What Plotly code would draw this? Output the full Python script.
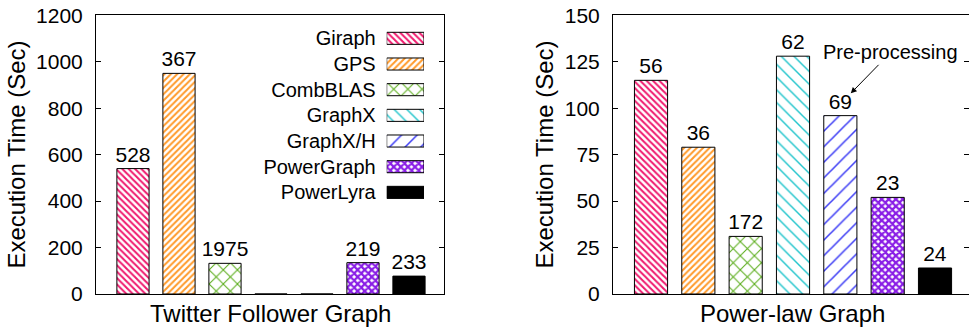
import plotly.graph_objects as go

# ---------------- data ----------------
series = ["Giraph", "GPS", "CombBLAS", "GraphX", "GraphX/H", "PowerGraph", "PowerLyra"]
twitter_time = [540, 950, 132, 0, 0, 135, 77]
twitter_labels = ["528", "367", "1975", "", "", "219", "233"]
powerlaw_time = [115, 79, 31, 128, 96, 52, 14]
powerlaw_labels = ["56", "36", "172", "62", "69", "23", "24"]

# ---------------- styles ----------------
colors = ["#f01a6e", "#ff9a2a", "#5aad1a", "#22c5cc", "#3c3cf5", "#8a1ee6", "#000000"]
pat_shapes = ["\\", "/", "x", "\\", "/", "x", ""]
pat_sizes = [4.5, 4.5, 10, 9, 11, 5, 8]
pat_solid = [0.45, 0.45, 0.2, 0.16, 0.14, 0.7, 0.3]

W, H = 969, 329
FONT = "Liberation Sans, Arial, Helvetica, sans-serif"


def fx(p):
    return p / W


def fy(p):
    return 1 - p / H


def marker(i):
    solid = pat_shapes[i] == ""
    m = dict(
        color=colors[i] if solid else "white",
        line=dict(color="black", width=1),
    )
    if not solid:
        m["pattern"] = dict(
            shape=pat_shapes[i], fgcolor=colors[i], bgcolor="white",
            size=pat_sizes[i], solidity=pat_solid[i], fillmode="replace",
        )
    return m


fig = go.Figure()

for i, name in enumerate(series):
    # left subplot
    fig.add_trace(go.Bar(
        x=[name], y=[twitter_time[i]], text=[twitter_labels[i]],
        textposition="outside", cliponaxis=False, constraintext="none",
        textfont=dict(size=21, color="black", family=FONT),
        marker=marker(i), width=0.7, xaxis="x", yaxis="y",
        showlegend=False, hoverinfo="skip",
    ))
    # right subplot
    fig.add_trace(go.Bar(
        x=[name], y=[powerlaw_time[i]], text=[powerlaw_labels[i]],
        textposition="outside", cliponaxis=False, constraintext="none",
        textfont=dict(size=21, color="black", family=FONT),
        marker=marker(i), width=0.7, xaxis="x2", yaxis="y2",
        showlegend=False, hoverinfo="skip",
    ))
    # legend swatches (helper axis)
    fig.add_trace(go.Bar(
        y=[name], x=[1], orientation="h",
        marker=marker(i), width=0.47, xaxis="x3", yaxis="y3",
        showlegend=False, hoverinfo="skip",
    ))

ydom = [fy(294), fy(15.3)]

common_x = dict(type="category", categoryorder="array", categoryarray=series,
                showticklabels=False, ticks="", showline=True, linecolor="black",
                linewidth=1, mirror=True, showgrid=False, zeroline=False,
                fixedrange=True)
common_y = dict(showline=True, linecolor="black", linewidth=1, ticks="inside",
                ticklen=5, tickcolor="black", showgrid=False, zeroline=False,
                tickfont=dict(size=21, color="black", family=FONT),
                ticklabelstandoff=8, fixedrange=True)

fig.update_layout(
    width=W, height=H,
    margin=dict(l=0, r=0, t=0, b=0, autoexpand=False),
    paper_bgcolor="white", plot_bgcolor="white",
    font=dict(family=FONT, color="black"),
    showlegend=False,
    xaxis=dict(common_x, domain=[fx(96), fx(444)], range=[-0.804, 6.761], anchor="y"),
    yaxis=dict(common_y, domain=ydom, range=[0, 1200], dtick=200, mirror="ticks", anchor="x"),
    xaxis2=dict(common_x, domain=[fx(613), 1.0], range=[-0.803, 6.718], anchor="y2"),
    yaxis2=dict(common_y, domain=ydom, range=[0, 150], dtick=25, mirror=False, anchor="x2"),
    yaxis4=dict(overlaying="y2", side="right", anchor="x2", range=[0, 150], dtick=25,
                ticks="inside", ticklen=5, tickcolor="black", showline=False,
                showticklabels=False, showgrid=False, zeroline=False, fixedrange=True),
    xaxis3=dict(domain=[fx(386.7), fx(424)], range=[0, 1], visible=False,
                anchor="y3", fixedrange=True),
    yaxis3=dict(domain=[fy(205.2), fy(25.5)], type="category", categoryorder="array",
                categoryarray=series, range=[6.5, -0.5], anchor="x3",
                tickmode="array", tickvals=series, ticktext=series,
                showline=False, ticks="", showgrid=False, zeroline=False,
                tickfont=dict(size=20, color="black", family=FONT),
                ticklabelstandoff=10, fixedrange=True),
)

# a dummy trace so yaxis4 gets rendered
fig.add_trace(go.Scatter(x=[series[0]], y=[None], xaxis="x2", yaxis="y4",
                         showlegend=False, hoverinfo="skip", mode="markers"))

annotations = [
    dict(text="Execution Time (Sec)", x=fx(17), y=fy(154.6), xref="paper", yref="paper",
         textangle=-90, showarrow=False, font=dict(size=24), xanchor="center", yanchor="middle"),
    dict(text="Execution Time (Sec)", x=fx(545), y=fy(154.6), xref="paper", yref="paper",
         textangle=-90, showarrow=False, font=dict(size=24), xanchor="center", yanchor="middle"),
    dict(text="Twitter Follower Graph", x=fx(270), y=fy(313), xref="paper", yref="paper",
         showarrow=False, font=dict(size=24), xanchor="center", yanchor="middle"),
    dict(text="Power-law Graph", x=fx(792), y=fy(313), xref="paper", yref="paper",
         showarrow=False, font=dict(size=24), xanchor="center", yanchor="middle"),
    dict(text="Pre-processing", x=4.22, y=108, xref="x2", yref="y2",
         showarrow=True, ax=40, ay=-41, arrowhead=2, arrowsize=1.2, arrowwidth=1,
         arrowcolor="black", font=dict(size=20), standoff=0),
]
fig.update_layout(annotations=annotations)

fig.write_html("out.html")
